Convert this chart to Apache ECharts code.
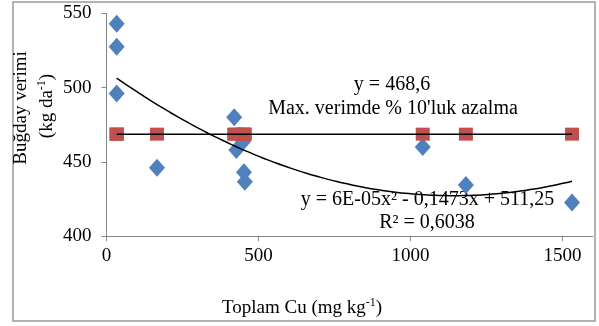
<!DOCTYPE html>
<html>
<head>
<meta charset="utf-8">
<script src="https://cdn.jsdelivr.net/npm/echarts@6/dist/echarts.min.js"></script>
<style>
  html, body { margin: 0; padding: 0; background: #fff; }
  #chart { width: 599px; height: 326px; }
</style>
</head>
<body>
<div id="chart"></div>
<script>
// Total Cu (mg/kg) and wheat yield (kg/da) per plot
const cuValues    = [33.5, 33.5, 33.5, 166, 420, 427, 449, 452, 455, 1040, 1182, 1531];
const yieldValues = [543, 527.5, 496, 446, 480, 458, 463.5, 443, 436.5, 460, 434.3, 422.6];

// 10 % reduction of maximum yield
const reductionLevel = 468.6;

// Quadratic trend coefficients: a*x^2 + b*x + c
const trendCoef = [6.45e-5, -0.1473, 511.25];

// Axis ticks
const xTicks = [0, 500, 1000, 1500];
const yTicks = [400, 450, 500, 550];

const serif = '"Liberation Serif", "Times New Roman", serif';

const scatterData = cuValues.map((x, i) => [x, yieldValues[i]]);
const levelData = cuValues.map(x => [x, reductionLevel]).sort((p, q) => p[0] - q[0]);

const xMin = Math.min(...cuValues), xMax = Math.max(...cuValues);
const trendData = [];
for (let k = 0; k <= 60; k++) {
  const x = xMin + (xMax - xMin) * k / 60;
  trendData.push([x, trendCoef[0] * x * x + trendCoef[1] * x + trendCoef[2]]);
}

const axisGray = '#868686';
const chart = echarts.init(document.getElementById('chart'));
chart.setOption({
  animation: false,
  grid: { left: 106.5, top: 13.3, right: 6, bottom: 90 },
  xAxis: {
    type: 'value', min: 0, max: 1600,
    splitLine: { show: false },
    axisLine: { lineStyle: { color: axisGray, width: 1 } },
    axisTick: { show: true, length: 5, lineStyle: { color: axisGray }, customValues: xTicks },
    axisLabel: { customValues: xTicks, formatter: v => String(v), margin: 11, color: '#000', fontFamily: serif, fontSize: 19 }
  },
  yAxis: {
    type: 'value', min: 400, max: 550, interval: 50,
    splitLine: { show: false },
    axisLine: { show: true, lineStyle: { color: axisGray, width: 1 } },
    axisTick: { show: true, length: 5, lineStyle: { color: axisGray }, customValues: yTicks },
    axisLabel: { customValues: yTicks, formatter: v => String(v), margin: 15, color: '#000', fontFamily: serif, fontSize: 19 }
  },
  series: [
    {
      type: 'scatter', data: scatterData, z: 2,
      symbol: 'diamond', symbolSize: [16, 18],
      itemStyle: { color: '#4F81BD', opacity: 1 }
    },
    {
      type: 'scatter', data: levelData, z: 3,
      symbol: 'rect', symbolSize: [14, 13],
      itemStyle: { color: '#C0504D', opacity: 1 }
    },
    {
      type: 'line', data: levelData, z: 4, showSymbol: false,
      lineStyle: { color: '#000', width: 1.5 }
    },
    {
      type: 'line', data: trendData, z: 5, showSymbol: false, smooth: true,
      lineStyle: { color: '#000', width: 1.5 }
    }
  ],
  graphic: [
    {
      type: 'rect', silent: true,
      shape: { x: 13, y: 2, width: 582, height: 319 },
      style: { fill: 'none', stroke: '#9a9a9a', lineWidth: 1.5 }
    },
    {
      type: 'text', x: 392, y: 85,
      style: { text: 'y = 468,6', font: '20px ' + serif, fill: '#000', align: 'center', verticalAlign: 'middle' }
    },
    {
      type: 'text', x: 393, y: 109,
      style: { text: "Max. verimde % 10'luk azalma", font: '20px ' + serif, fill: '#000', align: 'center', verticalAlign: 'middle' }
    },
    {
      type: 'text', x: 427.5, y: 200,
      style: { text: 'y = 6E-05x² - 0,1473x + 511,25', font: '20px ' + serif, fill: '#000', align: 'center', verticalAlign: 'middle' }
    },
    {
      type: 'text', x: 427, y: 223,
      style: { text: 'R² = 0,6038', font: '20px ' + serif, fill: '#000', align: 'center', verticalAlign: 'middle' }
    },
    {
      type: 'text', x: 302, y: 308,
      style: {
        text: '{m|Toplam Cu (mg kg}{s|-1}{m|)}',
        align: 'center', verticalAlign: 'middle',
        rich: {
          m: { fontFamily: serif, fontSize: 19, color: '#000', lineHeight: 22 },
          s: { fontFamily: serif, fontSize: 12, color: '#000', lineHeight: 12, verticalAlign: 'top' }
        }
      }
    },
    {
      type: 'text', x: 21, y: 108, rotation: Math.PI / 2,
      style: { text: 'Buğday verimi', font: '19px ' + serif, fill: '#000', align: 'center', verticalAlign: 'middle' }
    },
    {
      type: 'text', x: 47, y: 106, rotation: Math.PI / 2,
      style: {
        text: '{m|(kg da}{s|-1}{m|)}',
        align: 'center', verticalAlign: 'middle',
        rich: {
          m: { fontFamily: serif, fontSize: 19, color: '#000', lineHeight: 22 },
          s: { fontFamily: serif, fontSize: 12, color: '#000', lineHeight: 12, verticalAlign: 'top' }
        }
      }
    }
  ]
});
</script>
</body>
</html>
